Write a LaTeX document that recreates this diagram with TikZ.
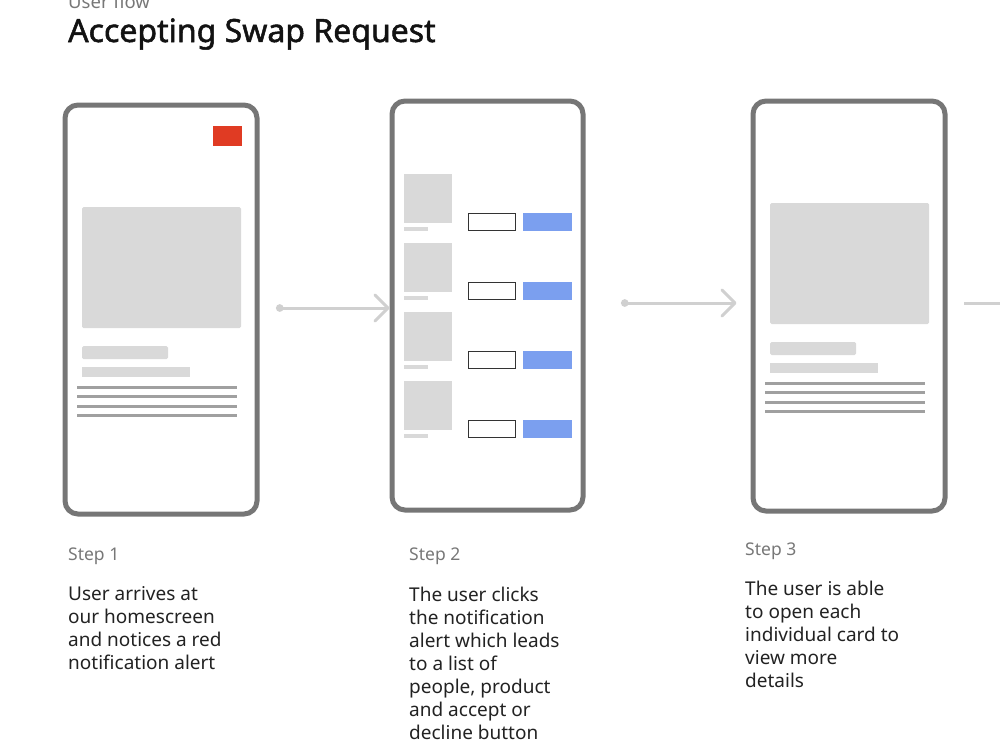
\documentclass[tikz,border=0pt]{standalone}
\usepackage{fontspec}
\setmainfont{Noto Sans}
\newfontfamily\titlefont{Noto Sans}[FakeBold=1.6]
\usetikzlibrary{arrows.meta,positioning,calc}
\definecolor{framegray}{HTML}{767676}
\definecolor{boxgray}{HTML}{D9D9D9}
\definecolor{linegray}{HTML}{A0A0A0}
\definecolor{arrowgray}{HTML}{D0D0D0}
\definecolor{alertred}{HTML}{E03B23}
\definecolor{okblue}{HTML}{7B9FEF}
\definecolor{stepgray}{HTML}{777777}
\definecolor{bodyblack}{HTML}{222222}
\begin{document}
\begin{tikzpicture}[x=1pt,y=-1pt,>={Straight Barb[length=13pt,width=26pt,round]},
        phone/.style={draw=framegray,line width=5pt,rounded corners=13pt,inner sep=0pt},
        flow/.style={draw=arrowgray,line width=3pt,{Circle[length=7.5pt]}->},
        steplbl/.style={anchor=base west,inner sep=0pt,text=stepgray,font=\fontsize{17.5}{20}\selectfont},
        desc/.style={anchor=base west,inner sep=0pt,align=left,text=bodyblack,font=\fontsize{19}{23}\selectfont}]
                \useasboundingbox (0,0) rectangle (1000,750);
                \def\cardscreen{
                        \fill[boxgray,rounded corners=1.5pt] (82,207) rectangle (241,328);
                        \fill[boxgray,rounded corners=1.5pt] (82,346) rectangle (168,359);
                        \fill[boxgray] (82,367) rectangle (190,377);
                        \foreach \y in {387,396,406,415}\draw[linegray,line width=3pt] (77,\y)--(237,\y);
                    }
                %===========================================
                \node[anchor=base west,inner sep=0pt,text=stepgray,font=\fontsize{18.5}{20}\selectfont] (flowlbl) at (68,8) {User flow};
                \node[anchor=base west,inner sep=0pt,text=black!93,font=\titlefont\fontsize{32}{36}\selectfont] (title) at (68,42) {Accepting Swap Request};
                %===========================================
                \node[phone,minimum width=192pt,minimum height=409pt] (ph1) at (161,309.5) {};
                \node[phone,minimum width=191pt,minimum height=409pt] (ph2) at (487.5,305.5) {};
                \node[phone,minimum width=192pt,minimum height=410pt] (ph3) at (849,306) {};
                % home screen with alert
                \fill[alertred] (213,126) rectangle (242,146);
                \cardscreen
                % swap request list
                \foreach \i in {0,...,3}{
                        \fill[boxgray] (404,{174+69*\i}) rectangle (452,{223+69*\i});
                        \fill[boxgray] (404,{227+69*\i}) rectangle (428,{231+69*\i});
                        \draw[black!80,line width=1pt] (468.5,{213.5+69*\i}) rectangle (515.5,{230.5+69*\i});
                        \fill[okblue] (523,{213+69*\i}) rectangle (572,{231+69*\i});
                    }
                % card details
                \begin{scope}[shift={(688,-4)}]
                        \cardscreen
                    \end{scope}
                %===========================================
                \coordinate (f1) at (276,308);
                \coordinate (f2) at (621,303);
                \coordinate (f3) at (964,303);
                \coordinate (f3e) at (1003,303);
                \draw[flow] (f1)--(f1-|ph2.west);
                \draw[flow] (f2)--($(f2-|ph3.west)+(-14,0)$);
                \draw[flow,-] (f3)--(f3e);
                %===========================================
                \node[steplbl] (s1) at (68,560) {Step 1};
                \node[steplbl] (s2) at (409,560) {Step 2};
                \node[steplbl] (s3) at (745,555) {Step 3};
                % multi-line nodes sit on their last baseline
                \node[desc] (d1) at (68,669) {User arrives at\\our homescreen\\and notices a red\\notification alert};
                \node[desc] (d2) at (409,739) {The user clicks\\the notification\\alert which leads\\to a list of\\people, product\\and accept or\\decline button};
                \node[desc] (d3) at (745,687) {The user is able\\to open each\\individual card to\\view more\\details};
            \end{tikzpicture}
\end{document}
